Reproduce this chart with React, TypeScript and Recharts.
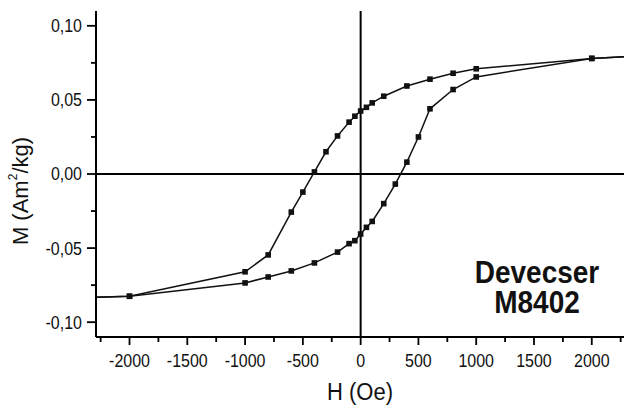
import React from 'react';
import { LineChart, Line, XAxis, YAxis, ReferenceLine } from 'recharts';

// Descending branch (from +H to -H)
const descendingH = [2400, 2000, 1000, 800, 600, 400, 200, 100, 50, 0, -50, -100, -200, -300, -400, -500, -600, -800, -1000, -2000, -2400];
const descendingM = [0.0795, 0.078, 0.071, 0.068, 0.064, 0.0594, 0.0525, 0.048, 0.045, 0.0425, 0.039, 0.035, 0.0257, 0.015, 0.0014, -0.0122, -0.0257, -0.0546, -0.066, -0.0825, -0.0835];
// Ascending branch (from -H to +H)
const ascendingH = [-2400, -2000, -1000, -800, -600, -400, -200, -100, -50, 0, 50, 100, 200, 300, 400, 500, 600, 800, 1000, 2000, 2400];
const ascendingM = [-0.0835, -0.0825, -0.0735, -0.0695, -0.0654, -0.06, -0.0527, -0.047, -0.045, -0.0405, -0.036, -0.032, -0.02, -0.0068, 0.008, 0.025, 0.044, 0.057, 0.0655, 0.078, 0.0795];

const xMajorTicks = [-2000, -1500, -1000, -500, 0, 500, 1000, 1500, 2000];
const xMinorTicks = [-2250, -1750, -1250, -750, -250, 250, 750, 1250, 1750, 2250];
const yMajorTicks = [-0.1, -0.05, 0, 0.05, 0.1];
const yMinorTicks = [-0.075, -0.025, 0.025, 0.075];

const xLabel = 'H (Oe)';
const sampleLines = ['Devecser', 'M8402'];

const descending = descendingH.map((h, i) => ({ h, m: descendingM[i] }));
const ascending = ascendingH.map((h, i) => ({ h, m: ascendingM[i] }));

const FONT = '"Liberation Sans", Arial, Helvetica, sans-serif';

const isMajor = (v: number, list: number[]) => list.some((t) => Math.abs(t - v) < 1e-9);

const XTick = (props: any) => {
  const { x, y, payload } = props;
  const major = isMajor(payload.value, xMajorTicks);
  return (
    <g>
      <line x1={x} x2={x} y1={y} y2={y + (major ? 8 : 5)} stroke="#000" strokeWidth={1.8} />
      {major && (
        <text
          x={x}
          y={y + 30}
          textAnchor="middle"
          fontSize={16}
          fontFamily={FONT}
          fill="#111"
          transform={`translate(0 ${-(y + 30) * 0.12}) scale(1 1.12)`}
        >
          {String(payload.value)}
        </text>
      )}
    </g>
  );
};

const YTick = (props: any) => {
  const { x, y, payload } = props;
  const major = isMajor(payload.value, yMajorTicks);
  const label = payload.value.toFixed(2).replace('.', ',');
  return (
    <g>
      <line x1={x - (major ? 9 : 5)} x2={x} y1={y} y2={y} stroke="#000" strokeWidth={1.8} />
      {major && (
        <text
          x={x - 14}
          y={y + 6.5}
          textAnchor="end"
          fontSize={16}
          fontFamily={FONT}
          fill="#111"
          transform={`translate(0 ${-(y + 6.5) * 0.12}) scale(1 1.12)`}
        >
          {label}
        </text>
      )}
    </g>
  );
};

const SquareDot = (props: any) => {
  const { cx, cy, payload } = props;
  if (cx == null || cy == null || Math.abs(payload.h) > 2300) return <g key={`${props.index}`} />;
  return <rect key={`${props.index}`} x={cx - 2.8} y={cy - 2.8} width={5.6} height={5.6} fill="#111" />;
};

export default function App() {
  const allX = [...xMajorTicks, ...xMinorTicks].sort((a, b) => a - b);
  const allY = [...yMajorTicks, ...yMinorTicks].sort((a, b) => a - b);
  return (
    <div style={{ position: 'absolute', left: 0, top: 0, width: 624, height: 411, overflow: 'hidden', background: '#fff' }}>
      <LineChart width={640} height={411} margin={{ top: 11, right: 2, bottom: 0, left: 0 }}>
        <XAxis
          dataKey="h"
          type="number"
          domain={[-2290, 2400]}
          allowDataOverflow
          ticks={allX}
          interval={0}
          tickSize={0}
          tickMargin={0}
          tickLine={false}
          tick={<XTick />}
          height={74}
          axisLine={{ stroke: '#000', strokeWidth: 2 }}
        />
        <XAxis
          xAxisId="top"
          orientation="top"
          dataKey="h"
          type="number"
          domain={[-2290, 2400]}
          allowDataOverflow
          height={0}
          tick={false}
          tickLine={false}
          axisLine={{ stroke: '#000', strokeWidth: 2 }}
        />
        <YAxis
          dataKey="m"
          type="number"
          domain={[-0.11, 0.11]}
          allowDataOverflow
          ticks={allY}
          interval={0}
          tickSize={0}
          tickMargin={0}
          tickLine={false}
          tick={<YTick />}
          width={96}
          axisLine={{ stroke: '#000', strokeWidth: 2 }}
        />
        <ReferenceLine x={0} stroke="#000" strokeWidth={2} />
        <ReferenceLine y={0} stroke="#000" strokeWidth={2} />
        <Line
          data={descending}
          dataKey="m"
          type="linear"
          stroke="#111"
          strokeWidth={1.5}
          dot={<SquareDot />}
          isAnimationActive={false}
        />
        <Line
          data={ascending}
          dataKey="m"
          type="linear"
          stroke="#111"
          strokeWidth={1.5}
          dot={<SquareDot />}
          isAnimationActive={false}
        />
      </LineChart>
      <div
        style={{
          position: 'absolute',
          left: 360,
          top: 392,
          transform: 'translate(-50%, -50%) scale(1, 1.1)',
          fontFamily: FONT,
          fontSize: 22,
          color: '#111',
          whiteSpace: 'nowrap',
          lineHeight: 1,
        }}
      >
        {xLabel}
      </div>
      <div
        style={{
          position: 'absolute',
          left: 21,
          top: 191,
          transform: 'translate(-50%, -50%) rotate(-90deg)',
          fontFamily: FONT,
          fontSize: 22,
          color: '#111',
          whiteSpace: 'nowrap',
          lineHeight: 1,
        }}
      >
        M (Am<sup style={{ fontSize: 12, verticalAlign: 'top', position: 'relative', top: -3 }}>2</sup>/kg)
      </div>
      <div
        style={{
          position: 'absolute',
          left: 537,
          top: 288,
          transform: 'translate(-50%, -50%) scale(1, 1.1)',
          fontFamily: FONT,
          fontSize: 28,
          fontWeight: 'bold',
          color: '#111',
          textAlign: 'center',
          lineHeight: '28px',
          whiteSpace: 'nowrap',
        }}
      >
        {sampleLines.map((s) => (
          <div key={s}>{s}</div>
        ))}
      </div>
    </div>
  );
}
